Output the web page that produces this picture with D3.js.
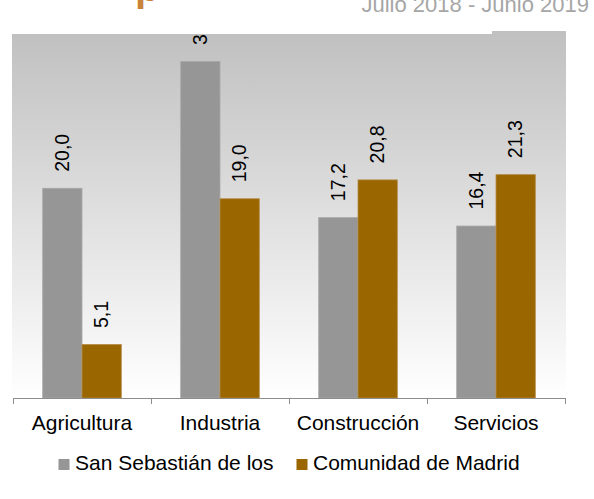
<!DOCTYPE html>
<html>
<head>
<meta charset="utf-8">
<script src="https://cdn.jsdelivr.net/npm/d3@7"></script>
<style>
  html, body { margin: 0; padding: 0; background: #fff; }
  svg { display: block; font-family: "Liberation Sans", Arial, sans-serif; }
</style>
</head>
<body>
<svg id="chart" width="594" height="499"></svg>
<script>
const categories = ["Agricultura", "Industria", "Construcción", "Servicios"];
const seriesNames = ["San Sebastián de los", "Comunidad de Madrid"];
const sanSebastian = [20.0, 32.1, 17.2, 16.4];
const comunidad = [5.1, 19.0, 20.8, 21.3];
const seriesValues = [sanSebastian, comunidad];
const seriesColors = ["#969696", "#996600"];
const seriesStroke = ["#a8a8a8", "#b58a45"];
const yDomain = [0, 35];
const subtitle = "Julio 2018 - Junio 2019";

(function () {
const svg = d3.select("#chart");
const pLeft = 13, pRight = 565, pTop = 31, pBottom = 398;

const defs = svg.append("defs");
const grad = defs.append("linearGradient").attr("id", "bg").attr("x1", 0).attr("y1", 0).attr("x2", 0).attr("y2", 1);
grad.append("stop").attr("offset", "0%").attr("stop-color", "#c0c0c0");
grad.append("stop").attr("offset", "100%").attr("stop-color", "#ffffff");

svg.append("rect").attr("x", 12).attr("y", pTop).attr("width", pRight - 12 + 1).attr("height", pBottom - pTop).attr("fill", "url(#bg)");

const x0 = d3.scaleBand().domain(categories).range([pLeft, pRight]).padding(0);
const x1 = d3.scaleBand().domain(seriesNames).range([0, x0.bandwidth()]).paddingInner(0).paddingOuter(0.756);
const y = d3.scaleLinear().domain(yDomain).range([pBottom, pTop]);

const data = [];
categories.forEach((c, i) => seriesNames.forEach((s, j) => data.push({ c, s, j, v: seriesValues[j][i] })));

svg.append("g").selectAll("rect").data(data).join("rect")
  .attr("x", d => x0(d.c) + x1(d.s))
  .attr("y", d => y(d.v))
  .attr("width", x1.bandwidth())
  .attr("height", d => y(0) - y(d.v))
  .attr("fill", d => seriesColors[d.j])
  .attr("stroke", d => seriesStroke[d.j])
  .attr("stroke-width", 0.8);

svg.append("g").selectAll("text").data(data).join("text")
  .attr("transform", d => `translate(${x0(d.c) + x1(d.s) + x1.bandwidth() / 2},${y(d.v) - 16.5}) rotate(-90)`)
  .attr("text-anchor", "start")
  .attr("dy", "0.35em")
  .attr("font-size", "19.5px")
  .attr("fill", "#000")
  .text(d => d.v.toFixed(1).replace(".", ","));

svg.append("rect").attr("x", 0).attr("y", 0).attr("width", 492).attr("height", 34).attr("fill", "#fff");
svg.append("rect").attr("x", pRight + 1).attr("y", 0).attr("width", 594 - pRight).attr("height", 34).attr("fill", "#fff");

const axis = d3.axisBottom(x0).tickSize(0).tickPadding(0);
const gx = svg.append("g").attr("transform", `translate(0,${pBottom})`).call(axis);
gx.select(".domain").remove();
gx.selectAll("text").attr("font-size", "21px").attr("fill", "#000").attr("dy", null).attr("y", 32)
  .style("font-family", "'Liberation Sans', Arial, sans-serif");
svg.append("line").attr("x1", pLeft).attr("x2", pRight).attr("y1", pBottom + 0.5).attr("y2", pBottom + 0.5).attr("stroke", "#8c8c8c");
const boundaries = categories.map(c => x0(c)).concat([x0(categories[categories.length - 1]) + x0.bandwidth()]);
svg.append("g").selectAll("line").data(boundaries).join("line")
  .attr("x1", d => Math.round(d) + 0.5).attr("x2", d => Math.round(d) + 0.5)
  .attr("y1", pBottom).attr("y2", pBottom + 6).attr("stroke", "#8c8c8c");

svg.append("text").attr("x", 135).attr("y", 0.5).attr("font-size", "40px").attr("font-weight", "bold")
  .attr("fill", "#c8823a").text("p");
svg.append("text").attr("x", 589).attr("y", 12).attr("text-anchor", "end").attr("font-size", "22px")
  .attr("fill", "#a6a6a6").text(subtitle);

const legendX = [58.5, 296.5];
const lg = svg.append("g");
seriesNames.forEach((s, j) => {
  lg.append("rect").attr("x", legendX[j]).attr("y", 459).attr("width", 11).attr("height", 11).attr("fill", seriesColors[j]);
  lg.append("text").attr("x", legendX[j] + 16.5).attr("y", 470).attr("font-size", "21px").attr("fill", "#000").text(s);
});
})();
</script>
</body>
</html>
